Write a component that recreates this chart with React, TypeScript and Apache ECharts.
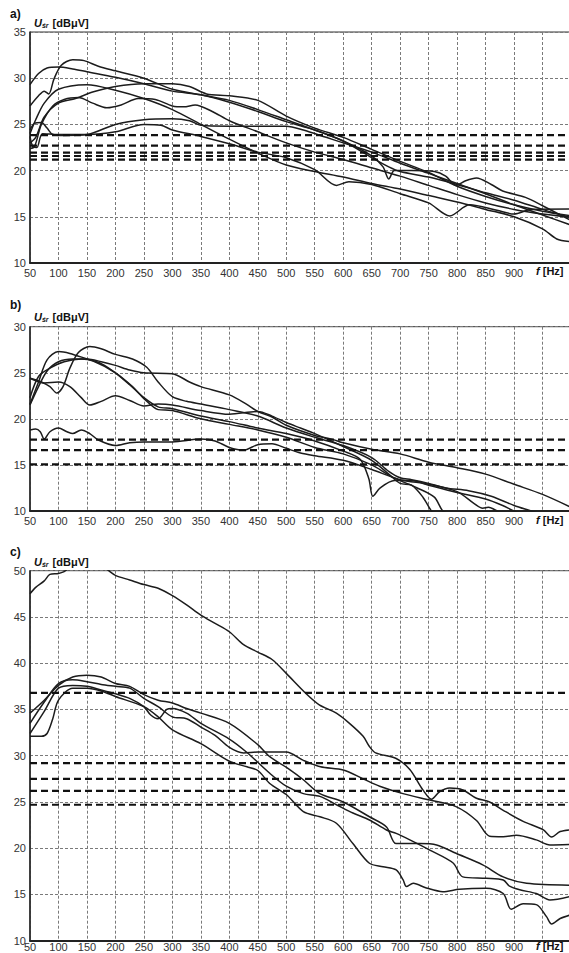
import React, { useEffect, useRef } from "react";
import * as echarts from "echarts";

type Pt = [number, number];

// ---------- Panel a) ----------
const a1: Pt[] = [[50,29.3],[65,30.5],[80,31.1],[100,31.2],[125,31.0],[150,30.7],[200,30.1],[250,29.4],[300,28.6],[350,28.2],[400,27.4],[450,26.4],[500,25.3],[550,24.4],[600,23.2],[650,21.4],[680,20.4],[700,19.9],[750,19.3],[800,18.5],[850,17.6],[900,16.8],[950,15.8],[1000,14.9]];
const a2: Pt[] = [[50,27.0],[65,28.1],[75,28.6],[83,28.3],[92,29.9],[105,31.4],[125,32.0],[145,31.9],[170,31.3],[200,30.8],[250,30.0],[300,28.8],[350,28.2],[400,27.6],[450,26.6],[500,25.5],[550,24.4],[600,23.2],[650,21.6],[670,20.4],[680,19.1],[690,20.0],[720,20.0],[760,19.9],[780,19.4],[798,18.4],[815,18.9],[834,19.2],[860,18.5],[880,17.8],[920,17.1],[950,16.2],[1000,14.6]];
const a3: Pt[] = [[50,24.0],[60,25.5],[75,27.3],[100,28.8],[150,29.3],[200,28.7],[250,27.8],[300,26.6],[350,25.0],[400,23.4],[450,21.9],[500,20.6],[550,19.9],[600,19.3],[650,18.6],[700,18.0],[750,17.3],[800,16.6],[850,15.8],[900,15.0],[950,13.7],[975,12.6],[1000,12.3]];
const a4: Pt[] = [[50,22.4],[58,22.6],[70,25.0],[90,27.0],[110,27.7],[135,27.9],[160,27.3],[185,26.8],[210,27.1],[240,27.8],[270,27.7],[300,27.0],[320,26.9],[340,27.1],[370,26.4],[400,25.4],[450,24.2],[500,23.0],[550,22.0],[600,21.2],[650,20.3],[700,19.4],[750,18.4],[800,17.4],[850,16.5],[900,15.8],[950,15.3],[1000,14.95]];
const a5: Pt[] = [[50,23.0],[60,23.6],[75,25.8],[100,27.3],[130,27.8],[160,28.5],[200,29.1],[250,29.4],[300,29.4],[330,29.1],[360,28.3],[400,28.1],[450,27.6],[500,25.9],[550,24.6],[600,23.6],[650,22.3],[700,21.0],[750,19.8],[800,18.3],[850,17.2],[900,16.3],[950,15.6],[1000,15.1]];
const a6: Pt[] = [[50,24.4],[58,25.1],[70,25.2],[80,24.6],[90,23.9],[110,23.8],[150,23.9],[200,25.0],[250,25.5],[300,25.6],[330,25.4],[350,24.9],[400,24.8],[500,24.8],[530,24.4],[570,23.6],[600,23.0],[650,22.0],[700,20.8],[750,19.7],[800,18.6],[850,17.5],[900,16.3],[950,15.2],[1000,14.1]];
const a7: Pt[] = [[50,23.7],[55,22.6],[62,22.5],[72,24.0],[100,23.9],[150,23.9],[200,24.2],[250,25.0],[280,24.9],[300,24.4],[350,23.7],[400,22.9],[450,22.0],[500,21.4],[550,20.1],[588,18.4],[610,18.8],[650,18.5],[700,17.5],[750,16.5],[787,15.1],[822,16.3],[870,15.7],[900,15.3],[930,15.8],[1000,15.85]];
const limitsA: number[] = [23.85, 22.7, 21.94, 21.58, 21.18];

// ---------- Panel b) ----------
const b1: Pt[] = [[50,24.4],[70,24.0],[85,23.5],[97,22.8],[108,23.5],[120,25.5],[135,27.2],[155,27.85],[175,27.6],[200,27.0],[230,26.5],[255,25.6],[275,24.0],[300,22.4],[325,21.9],[350,21.6],[400,21.0],[450,20.3],[500,19.0],[550,18.0],[600,17.1],[650,15.8],[680,14.3],[700,13.6],[720,13.4],[750,13.0],[780,12.5],[820,12.2],[860,11.6],[900,10.6],[930,10.0],[950,9.6]];
const b2: Pt[] = [[50,21.5],[65,23.5],[80,25.2],[100,26.2],[125,26.5],[150,26.5],[175,26.2],[200,25.8],[225,25.3],[250,25.0],[300,24.9],[330,24.0],[350,23.5],[400,22.6],[430,21.6],[450,20.8],[475,20.2],[500,19.3],[550,18.2],[580,17.8],[600,17.4],[650,16.7],[700,16.2],[750,15.3],[800,14.7],[850,14.0],[900,12.9],[950,11.8],[1000,10.4]];
const b3: Pt[] = [[50,21.6],[65,24.0],[80,26.4],[100,27.3],[120,27.1],[150,26.5],[175,26.0],[200,25.0],[225,23.7],[250,22.3],[275,21.3],[300,21.1],[350,20.3],[400,19.7],[450,19.0],[500,18.4],[550,17.6],[600,16.5],[630,15.6],[645,13.5],[652,11.6],[665,12.5],[690,13.3],[720,13.3],[750,12.8],[800,12.0],[850,11.3],[880,10.6],[900,10.0],[920,9.6]];
const b4: Pt[] = [[50,22.3],[65,24.6],[85,25.5],[110,26.2],[140,26.5],[160,26.3],[200,25.0],[230,23.5],[250,22.2],[275,21.0],[300,20.9],[350,20.0],[400,19.4],[450,18.8],[500,18.0],[550,16.9],[600,16.2],[650,15.0],[680,13.9],[700,13.3],[730,12.5],[760,11.5],[775,10.0],[790,9.6]];
const b5: Pt[] = [[50,24.4],[75,23.9],[100,24.0],[120,23.5],[140,22.3],[155,21.5],[175,21.9],[200,22.5],[225,22.0],[250,21.4],[275,21.6],[300,21.5],[350,20.9],[400,20.5],[450,20.8],[475,20.3],[500,19.6],[525,19.0],[550,18.4],[600,17.0],[650,15.5],[680,14.0],[700,13.0],[720,12.8],[740,11.5],[755,10.0],[765,9.5]];
const b6: Pt[] = [[50,18.8],[60,18.9],[68,18.6],[75,17.8],[85,18.6],[100,19.0],[115,18.6],[125,18.4],[140,18.8],[155,18.4],[170,17.7],[200,17.1],[225,17.4],[250,17.5],[300,17.5],[350,17.8],[375,17.6],[400,16.9],[425,16.6],[450,17.2],[475,17.3],[500,16.8],[525,16.3],[550,16.0],[600,15.5],[650,14.5],[700,13.4],[750,12.9],[800,12.1],[830,10.8],[845,10.3],[855,10.4],[870,10.0],[880,9.6]];
const limitsB: number[] = [17.75, 16.6, 15.05];

// ---------- Panel c) ----------
const c1: Pt[] = [[50,47.5],[60,48.2],[75,48.9],[85,49.6],[100,49.7],[110,49.9],[120,50.3],[150,50.6],[180,50.3],[200,49.5],[225,49.0],[250,48.5],[275,48.1],[300,47.3],[325,46.3],[350,45.2],[375,44.3],[400,43.4],[425,42.0],[450,41.2],[475,40.4],[500,38.9],[535,36.7],[558,35.5],[588,34.6],[611,33.5],[635,32.1],[646,31.0],[657,30.3],[693,29.7],[717,28.5],[740,26.3],[755,25.3],[769,26.1],[787,26.5],[810,26.3],[834,25.4],[857,25.0],[881,24.1],[916,22.9],[951,22.0],[966,21.2],[981,21.8],[1000,22.0]];
const c2: Pt[] = [[50,34.6],[75,36.0],[100,37.6],[125,38.5],[150,38.7],[175,38.5],[200,37.8],[225,37.5],[250,36.6],[275,36.0],[300,35.7],[325,35.1],[350,34.6],[400,33.5],[450,31.2],[471,29.9],[506,28.5],[530,27.4],[559,25.9],[600,25.0],[646,23.4],[676,22.3],[693,20.5],[734,20.5],[764,20.35],[798,19.45],[845,18.2],[881,16.9],[922,16.2],[1000,16.0]];
const c3: Pt[] = [[50,33.5],[75,35.8],[100,37.8],[125,38.2],[150,38.0],[175,37.7],[200,37.5],[225,37.3],[250,36.2],[275,35.3],[300,34.2],[325,34.0],[350,33.1],[375,32.2],[400,30.9],[425,30.3],[450,30.4],[475,30.4],[500,30.4],[530,29.5],[560,28.8],[600,28.45],[635,27.5],[664,26.7],[705,25.9],[752,25.2],[798,24.5],[834,23.0],[857,21.3],[881,21.25],[904,21.4],[939,20.9],[963,20.35],[1000,20.4]];
const c4: Pt[] = [[50,32.4],[75,34.8],[100,37.3],[125,37.6],[150,37.5],[175,37.1],[200,36.7],[225,36.2],[250,35.3],[262,34.4],[275,34.0],[290,35.0],[300,35.1],[325,34.6],[350,33.5],[400,31.8],[430,30.4],[471,28.1],[500,26.7],[530,25.9],[559,25.6],[588,24.7],[617,23.8],[646,23.05],[676,21.97],[693,21.6],[717,20.9],[752,19.8],[793,18.4],[810,16.9],[851,16.75],[881,16.56],[892,15.9],[910,15.5],[939,15.1],[963,14.4],[1000,14.8]];
const c5: Pt[] = [[50,32.1],[70,32.1],[80,32.4],[90,34.0],[100,36.0],[125,37.3],[150,37.3],[175,37.0],[200,36.4],[250,35.3],[275,34.2],[300,32.8],[350,31.3],[400,29.4],[431,28.8],[450,28.4],[471,27.0],[500,25.8],[530,23.95],[559,23.4],[588,22.7],[617,20.5],[646,18.37],[670,18.0],[693,17.65],[705,16.6],[711,15.85],[723,16.2],[746,15.7],[775,15.3],[804,15.56],[851,15.66],[881,15.1],[895,13.4],[916,14.0],[939,13.9],[957,12.6],[966,11.8],[981,12.4],[1000,12.8]];
const limitsC: number[] = [36.8, 29.2, 27.5, 26.2, 24.7];

const curvesA = [a1, a2, a3, a4, a5, a6, a7];
const curvesB = [b1, b2, b3, b4, b5, b6];
const curvesC = [c1, c2, c3, c4, c5];

const xMin = 50;
const xMax = 1000;
const xStep = 50;
const lastXLabel = 900;
const panelLetters = ["a)", "b)", "c)"];
const yRanges: [number, number][] = [[10, 35], [10, 30], [10, 50]];

const FONT = "'Liberation Sans', Arial, sans-serif";

export default function App() {
  const ref = useRef<HTMLDivElement>(null);
  useEffect(() => {
    if (!ref.current) return;
    const chart = echarts.init(ref.current, null, { renderer: "svg" });

    const layout = [
      { top: 32, height: 231, letterY: 15, titleY: 24.5, fY: 271.5, labelMargin: 4 },
      { top: 326.7, height: 184.3, letterY: 306, titleY: 318.5, fY: 520.7, labelMargin: 4 },
      { top: 570.7, height: 370, letterY: 553, titleY: 563.5, fY: 946.5, labelMargin: 1 },
    ];
    const curves = [curvesA, curvesB, curvesC];
    const limits = [limitsA, limitsB, limitsC];

    const grid = layout.map((l) => ({
      left: 30,
      top: l.top,
      width: 541,
      height: l.height,
      show: true,
      borderColor: "#333",
      borderWidth: 1,
      backgroundColor: "transparent",
      containLabel: false,
      outerBoundsMode: "none",
    }));

    const splitStyle = { color: "#7a7a7a", width: 1, type: [3, 2] as number[] };

    const xAxis = layout.map((l, i) => ({
      type: "value",
      gridIndex: i,
      min: xMin,
      max: xMax,
      interval: xStep,
      axisLine: { show: true, onZero: false, lineStyle: { color: "#222", width: 2 } },
      axisTick: { show: false },
      splitLine: { show: true, lineStyle: splitStyle },
      axisLabel: {
        formatter: (v: number) => (v <= lastXLabel ? String(v) : ""),
        color: "#333",
        fontSize: 11,
        lineHeight: 11,
        fontFamily: FONT,
        margin: l.labelMargin,
      },
    }));

    const yAxis = layout.map((_, i) => ({
      type: "value",
      gridIndex: i,
      min: yRanges[i][0],
      max: yRanges[i][1],
      interval: 5,
      axisLine: { show: true, onZero: false, lineStyle: { color: "#222", width: 1.5 } },
      axisTick: { show: false },
      splitLine: { show: true, lineStyle: splitStyle },
      axisLabel: { color: "#333", fontSize: 11, fontFamily: FONT, margin: 4 },
    }));

    const series: any[] = [];
    curves.forEach((set, i) => {
      set.forEach((c) => {
        series.push({
          type: "line",
          xAxisIndex: i,
          yAxisIndex: i,
          data: c,
          smooth: 0.3,
          showSymbol: false,
          symbol: "none",
          silent: true,
          clip: true,
          lineStyle: { color: "#1c1c1c", width: 1.5 },
        });
      });
      limits[i].forEach((v) => {
        series.push({
          type: "line",
          xAxisIndex: i,
          yAxisIndex: i,
          data: [[xMin, v], [xMax, v]],
          showSymbol: false,
          symbol: "none",
          silent: true,
          lineStyle: { color: "#111", width: 2.2, type: [7, 4] },
        });
      });
    });

    const graphic: any[] = [];
    layout.forEach((l, i) => {
      graphic.push({
        type: "text",
        left: 10,
        top: l.letterY - 7,
        style: { text: panelLetters[i], font: `bold 12px ${FONT}`, fill: "#111" },
      });
      graphic.push({
        type: "text",
        left: 34,
        top: l.titleY - 7,
        style: {
          text: "{u|U}{s|śr}{b| [dBμV]}",
          fill: "#111",
          rich: {
            u: { font: `italic bold 11px ${FONT}`, fill: "#111", verticalAlign: "bottom" },
            s: { font: `italic bold 7px ${FONT}`, fill: "#111", verticalAlign: "bottom", padding: [4, 1, 0, 0] },
            b: { font: `bold 11px ${FONT}`, fill: "#111", verticalAlign: "bottom" },
          },
        },
      });
      graphic.push({
        type: "text",
        left: 536,
        top: l.fY - 6,
        style: {
          text: "{f|f}{b| [Hz]}",
          fill: "#111",
          rich: {
            f: { font: `italic bold 11px ${FONT}`, fill: "#111", lineHeight: 12 },
            b: { font: `bold 11px ${FONT}`, fill: "#111", lineHeight: 12 },
          },
        },
      });
    });

    chart.setOption({
      animation: false,
      backgroundColor: "#fff",
      grid,
      xAxis,
      yAxis,
      series,
      graphic,
    });
    return () => chart.dispose();
  }, []);

  return (
    <div
      ref={ref}
      style={{ position: "fixed", left: 0, top: 0, width: 569, height: 953, background: "#fff" }}
    />
  );
}
